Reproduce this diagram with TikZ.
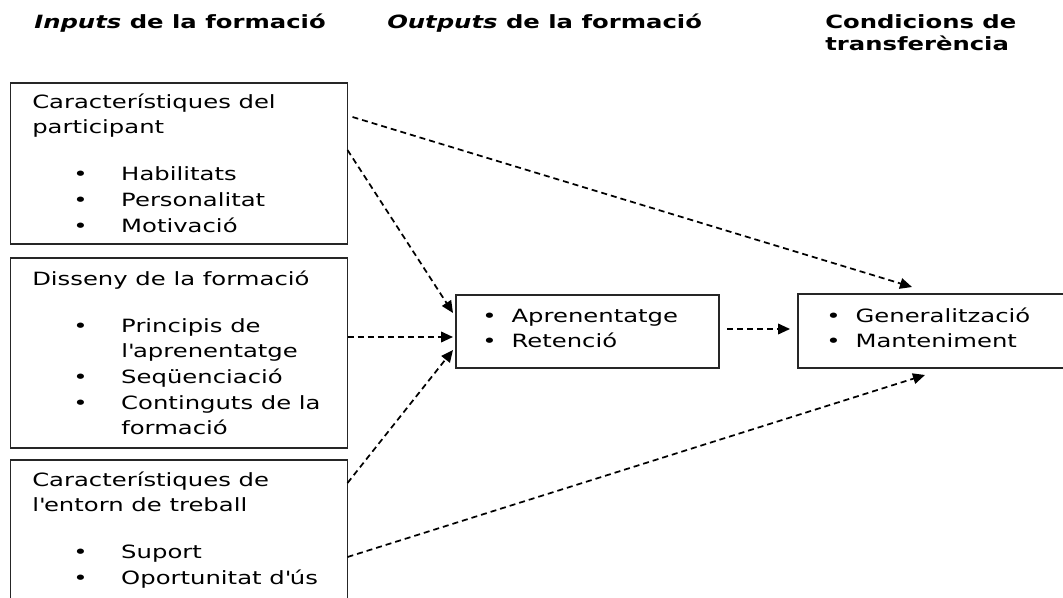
\documentclass[tikz,border=0pt]{standalone}
\usepackage{fontspec}
\setmainfont{DejaVu Sans}[FakeStretch=1.33]
\usetikzlibrary{arrows.meta,calc}

\newcommand{\itm}[1]{\hspace*{30.75pt}\makebox[36pt][l]{\textbullet}#1}
\newcommand{\itmc}[1]{\hspace*{66.75pt}#1}
\newcommand{\dotitm}[1]{\makebox[22pt][l]{\textbullet}#1}
\newcommand{\ap}{\textquotesingle}

\begin{document}
\begin{tikzpicture}[
          x=0.75pt, y=-0.75pt,
          box/.style={
            rectangle,
            draw=black!85,
            line width=1pt,
            anchor=north west,
            outer sep=0pt,
          },
          txt/.style={
            anchor=north west,
            inner sep=0pt,
            align=left,
            font=\fontsize{13.7}{19.25}\selectfont,
          },
          head/.style={
            anchor=north west,
            inner sep=0pt,
            align=left,
            font=\fontsize{13.7}{16.5}\selectfont\bfseries,
          },
          flow/.style={
            -{Triangle[length=9pt,width=8pt]},
            line width=1.3pt,
            dash pattern=on 4.5pt off 3pt,
          },
        ]
          \useasboundingbox (0,0) rectangle (1063,598);

          % column headings
          \node[head] (h1) at (34,8) {\rule{0pt}{15pt}\textit{Inputs} de la formació};
          \node[head] (h2) at (387,8) {\rule{0pt}{15pt}\textit{Outputs} de la formació};
          \node[head] (h3) at (825,8) {\rule{0pt}{15pt}Condicions de\\transferència};

          % boxes
          \node[box, minimum width=252.75pt, minimum height=120.75pt] (b1) at (10.5,83) {};
          \node[box, minimum width=252.75pt, minimum height=142.5pt] (b2) at (10.5,258) {};
          \node[box, minimum width=252.75pt, minimum height=106.5pt] (b3) at (10.5,460) {};
          \node[box, minimum width=197.25pt, minimum height=54.75pt] (b4) at (456,295) {};
          \node[box, minimum width=201pt, minimum height=55.5pt] (b5) at (798,294) {};

          % box texts
          \node[txt] (t1) at (32,88) {\rule{0pt}{15pt}Característiques del\\participant\\[16pt]
            \itm{Habilitats}\\\itm{Personalitat}\\\itm{Motivació}};
          \node[txt] (t2) at (32,265) {\rule{0pt}{15pt}Disseny de la formació\\[16pt]
            \itm{Principis de}\\\itmc{l\ap aprenentatge}\\\itm{Seqüenciació}\\
            \itm{Continguts de la}\\\itmc{formació}};
          \node[txt] (t3) at (32,466) {\rule{0pt}{15pt}Característiques de\\l\ap entorn de treball\\[16pt]
            \itm{Suport}\\\itm{Oportunitat d\ap ús}};
          \node[txt] (t4) at (482,302) {\rule{0pt}{15pt}\dotitm{Aprenentatge}\\\dotitm{Retenció}};
          \node[txt] (t5) at (826,302) {\rule{0pt}{15pt}\dotitm{Generalització}\\\dotitm{Manteniment}};

          % connections
          \draw[flow] ($(b1.north east)+(5,34)$) -- ($(b5.north west)+(114,-7)$);
          \draw[flow] ($(b1.north east)+(0,67)$) -- ($(b4.north west)+(-3,18)$);
          \draw[flow] ($(b2.north east)+(0,79)$) -- ($(b4.north west)+(-3,42)$);
          \draw[flow] ($(b3.north east)+(0,23)$) -- ($(b4.north west)+(-3,55)$);
          \draw[flow] ($(b4.north east)+(8,34)$) -- ($(b5.north west)+(-8,35)$);
          \draw[flow] ($(b3.north east)+(0,97)$) -- ($(b5.north west)+(127,81)$);
        \end{tikzpicture}
\end{document}
